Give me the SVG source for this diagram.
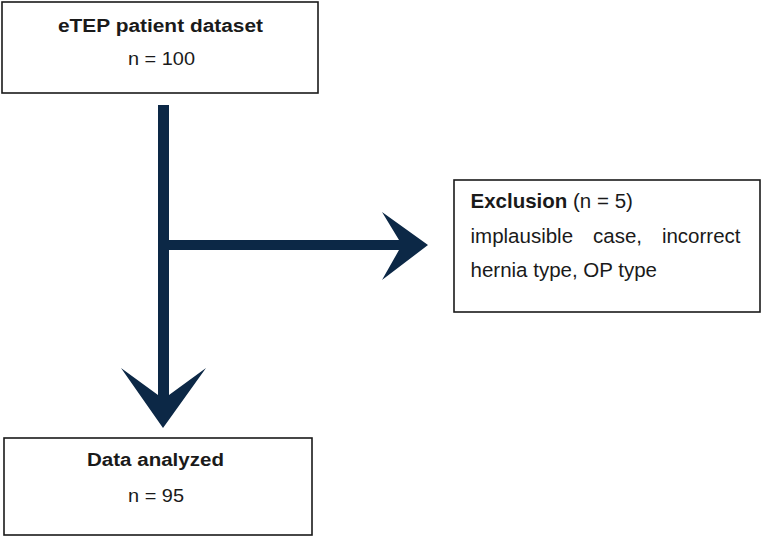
<svg xmlns="http://www.w3.org/2000/svg" width="762" height="537" viewBox="0 0 762 537">
<style>
.box{fill:#fff;stroke:#1a1a1a;stroke-width:1.6}
.t{font-family:"Liberation Sans",Arial,sans-serif;font-size:18px;fill:#1a1a1a}
.x{font-size:20.5px}
.b{font-weight:bold}
.arrow{fill:#0c2846}
</style>
<rect width="762" height="537" fill="#fff"/>
<g id="connectors">
<path class="arrow" d="M158,105 H169 V395 L206,368 L163,428 L121,368 L158,395 Z"/>
<path class="arrow" d="M169,240 H399 L382,212 L428,245 L382,280 L399,250 H169 Z"/>
</g>
<g id="node-dataset">
<rect class="box" x="2" y="2" width="316" height="91"/>
<text class="t b" x="58" y="31.5" textLength="205" lengthAdjust="spacingAndGlyphs">eTEP patient dataset</text>
<text class="t" x="128" y="65" textLength="67" lengthAdjust="spacingAndGlyphs">n = 100</text>
</g>
<g id="node-exclusion">
<rect class="box" x="454" y="180" width="306" height="132"/>
<text class="t x" x="470.5" y="208"><tspan class="b">Exclusion</tspan> (n = 5)</text>
<text class="t x" x="470.5" y="242.5">implausible</text>
<text class="t x" x="593" y="242.5">case,</text>
<text class="t x" x="740.5" y="242.5" text-anchor="end">incorrect</text>
<text class="t x" x="470.5" y="277">hernia type, OP type</text>
</g>
<g id="node-analyzed">
<rect class="box" x="4" y="438" width="308" height="97"/>
<text class="t b" x="87" y="466" textLength="137" lengthAdjust="spacingAndGlyphs">Data analyzed</text>
<text class="t" x="128" y="501.5" textLength="56" lengthAdjust="spacingAndGlyphs">n = 95</text>
</g>
</svg>
